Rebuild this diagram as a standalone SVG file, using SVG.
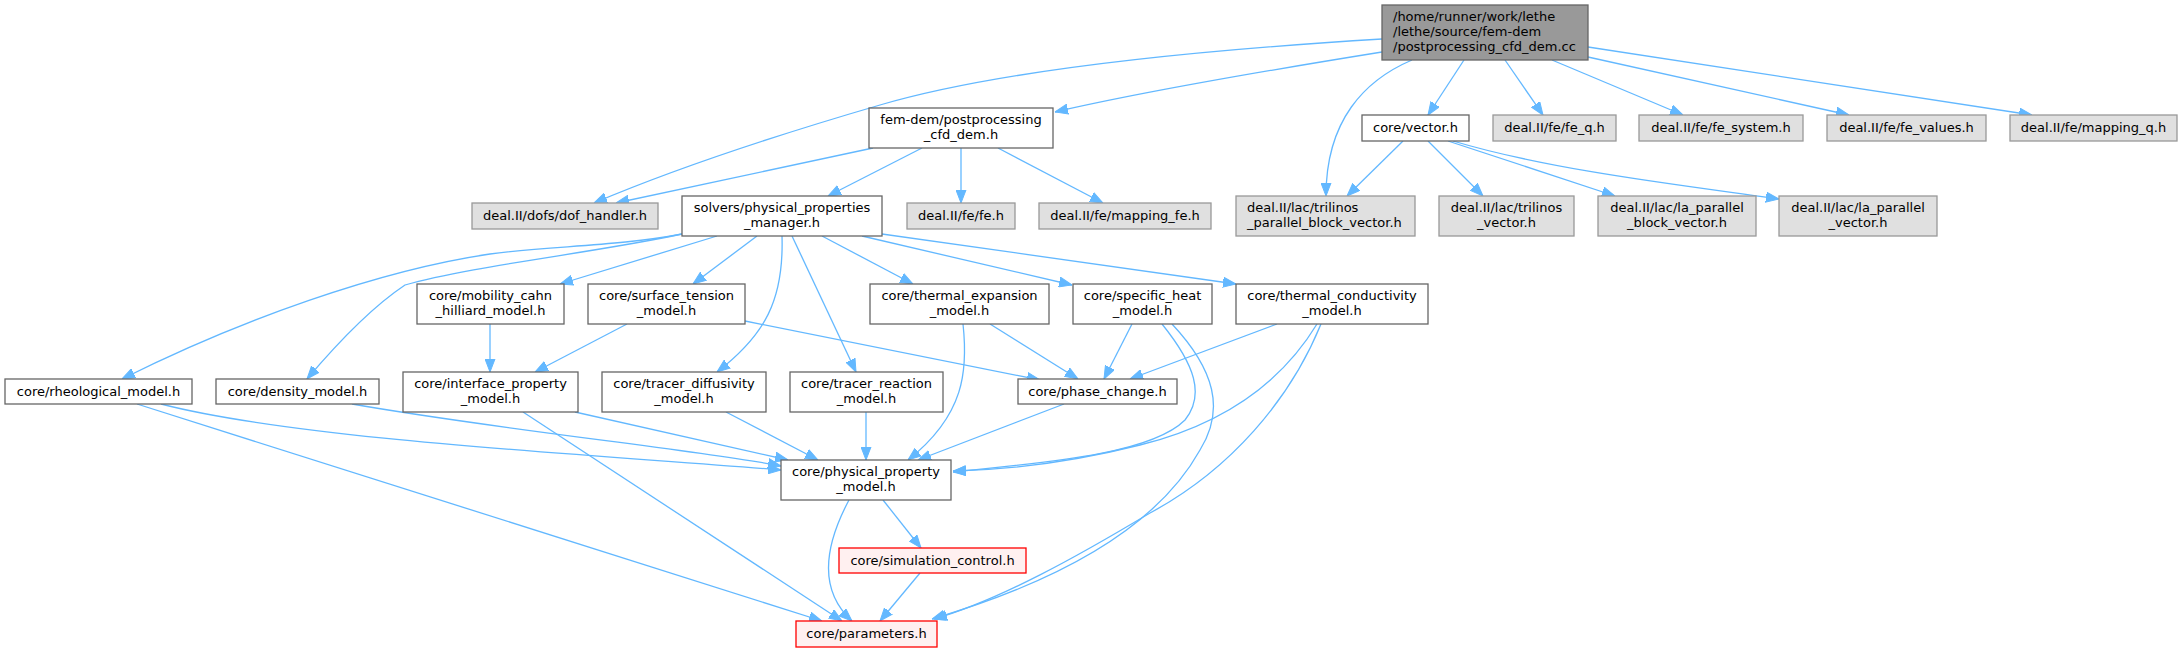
<svg xmlns="http://www.w3.org/2000/svg" width="2182" height="652" viewBox="0 0 2182 652">
<style>
text{font-family:"DejaVu Sans","Liberation Sans",sans-serif;font-size:13px;fill:#000;text-anchor:middle}
.w{fill:#fff;stroke:#666;stroke-width:1.3}
.g{fill:#e0e0e0;stroke:#999;stroke-width:1.3}
.m{fill:#999;stroke:#666;stroke-width:1.3}
.r{fill:#fff0f0;stroke:#f00;stroke-width:1.3}
.e path{fill:none;stroke:#63b8ff;stroke-width:1.3;marker-end:url(#a)}
</style>
<defs>
<marker id="a" viewBox="0 0 13 11" refX="13" refY="5.5" markerWidth="13" markerHeight="11" markerUnits="userSpaceOnUse" orient="auto">
<path d="M0,0.5 L13,5.5 L0,10.5 Z" fill="#63b8ff" stroke="#63b8ff" stroke-width="1"/>
</marker>
</defs>
<rect width="2182" height="652" fill="#fff"/>
<g class="e">
<path d="M1382,52 C1270,70 1150,90 1055,112"/>
<path d="M1382,39 C1200,50 1000,70 880,105 C760,140 660,175 594,203"/>
<path d="M1412,60 C1365,80 1326,120 1326,196"/>
<path d="M1464,60 L1428,115"/>
<path d="M1505,60 L1543,115"/>
<path d="M1552,60 L1683,115"/>
<path d="M1588,57 L1849,115"/>
<path d="M1588,47 L2032,115"/>
<path d="M873,148 L616,203"/>
<path d="M922,148 L828,196"/>
<path d="M961,148 L961,203"/>
<path d="M998,148 L1103,203"/>
<path d="M1403,141 L1347,196"/>
<path d="M1428,141 L1483,196"/>
<path d="M1448,141 L1615,196"/>
<path d="M1453,141 C1550,170 1680,185 1779,199"/>
<path d="M682,234 C620,246 550,246 490,254 C380,270 240,320 122,379"/>
<path d="M682,234 C600,252 470,266 405,285 C375,305 340,340 307,379"/>
<path d="M717,236 L560,284"/>
<path d="M757,236 L693,284"/>
<path d="M782,236 C784,300 765,335 717,372"/>
<path d="M792,236 L856,372"/>
<path d="M822,236 L913,284"/>
<path d="M862,236 L1072,285"/>
<path d="M882,234 L1236,284"/>
<path d="M490,324 L490,372"/>
<path d="M627,324 L535,372"/>
<path d="M745,321 L1040,380"/>
<path d="M963,324 C968,370 965,415 908,460"/>
<path d="M990,324 L1078,379"/>
<path d="M1132,324 L1104,379"/>
<path d="M1162,324 C1195,365 1205,395 1185,420 C1150,455 1040,463 953,472"/>
<path d="M1172,324 C1215,370 1225,410 1200,450 C1150,540 1030,590 932,619"/>
<path d="M1277,324 L1130,379"/>
<path d="M1317,324 C1280,385 1220,425 1140,445 C1060,465 1000,470 953,471"/>
<path d="M1321,324 C1290,400 1230,470 1150,513 C1080,555 1000,600 934,619"/>
<path d="M161,404 C300,440 600,455 781,470"/>
<path d="M137,404 L822,621"/>
<path d="M352,404 C500,430 700,450 781,466"/>
<path d="M575,412 L788,460"/>
<path d="M523,412 L842,621"/>
<path d="M726,412 L818,460"/>
<path d="M866,412 L866,460"/>
<path d="M1064,404 L918,460"/>
<path d="M883,500 L921,548"/>
<path d="M849,500 C825,545 818,590 852,621"/>
<path d="M920,573 L880,621"/>
</g>
<g id="main"><rect class="m" x="1382" y="5" width="206" height="55"/><text x="1393" y="21" style="text-anchor:start">/home/runner/work/lethe</text><text x="1393" y="36" style="text-anchor:start">/lethe/source/fem-dem</text><text x="1393" y="51" style="text-anchor:start">/postprocessing_cfd_dem.cc</text></g>
<g id="femdem"><rect class="w" x="869" y="108" width="184" height="40"/><text x="961" y="124">fem-dem/postprocessing</text><text x="961" y="139">_cfd_dem.h</text></g>
<g id="dof"><rect class="g" x="472" y="203" width="186" height="26"/><text x="565" y="220">deal.II/dofs/dof_handler.h</text></g>
<g id="solvers"><rect class="w" x="682" y="196" width="200" height="40"/><text x="782" y="212">solvers/physical_properties</text><text x="782" y="227">_manager.h</text></g>
<g id="feh"><rect class="g" x="907" y="203" width="108" height="26"/><text x="961" y="220">deal.II/fe/fe.h</text></g>
<g id="mappingfe"><rect class="g" x="1039" y="203" width="172" height="26"/><text x="1125" y="220">deal.II/fe/mapping_fe.h</text></g>
<g id="vector"><rect class="w" x="1362" y="115" width="107" height="26"/><text x="1415.5" y="132">core/vector.h</text></g>
<g id="feq"><rect class="g" x="1493" y="115" width="123" height="26"/><text x="1554.5" y="132">deal.II/fe/fe_q.h</text></g>
<g id="fesystem"><rect class="g" x="1639" y="115" width="164" height="26"/><text x="1721" y="132">deal.II/fe/fe_system.h</text></g>
<g id="fevalues"><rect class="g" x="1827" y="115" width="159" height="26"/><text x="1906.5" y="132">deal.II/fe/fe_values.h</text></g>
<g id="mappingq"><rect class="g" x="2010" y="115" width="167" height="26"/><text x="2093.5" y="132">deal.II/fe/mapping_q.h</text></g>
<g id="tpbv"><rect class="g" x="1236" y="196" width="179" height="40"/><text x="1247" y="212" style="text-anchor:start">deal.II/lac/trilinos</text><text x="1247" y="227" style="text-anchor:start">_parallel_block_vector.h</text></g>
<g id="tv"><rect class="g" x="1439" y="196" width="135" height="40"/><text x="1506.5" y="212">deal.II/lac/trilinos</text><text x="1506.5" y="227">_vector.h</text></g>
<g id="lapbv"><rect class="g" x="1598" y="196" width="158" height="40"/><text x="1677" y="212">deal.II/lac/la_parallel</text><text x="1677" y="227">_block_vector.h</text></g>
<g id="lapv"><rect class="g" x="1779" y="196" width="158" height="40"/><text x="1858" y="212">deal.II/lac/la_parallel</text><text x="1858" y="227">_vector.h</text></g>
<g id="rheo"><rect class="w" x="5" y="379" width="187" height="25"/><text x="98.5" y="396">core/rheological_model.h</text></g>
<g id="density"><rect class="w" x="216" y="379" width="163" height="25"/><text x="297.5" y="396">core/density_model.h</text></g>
<g id="mobility"><rect class="w" x="417" y="284" width="147" height="40"/><text x="490.5" y="300">core/mobility_cahn</text><text x="490.5" y="315">_hilliard_model.h</text></g>
<g id="surface"><rect class="w" x="588" y="284" width="157" height="40"/><text x="666.5" y="300">core/surface_tension</text><text x="666.5" y="315">_model.h</text></g>
<g id="interface"><rect class="w" x="403" y="372" width="175" height="40"/><text x="490.5" y="388">core/interface_property</text><text x="490.5" y="403">_model.h</text></g>
<g id="tdiff"><rect class="w" x="602" y="372" width="164" height="40"/><text x="684" y="388">core/tracer_diffusivity</text><text x="684" y="403">_model.h</text></g>
<g id="treact"><rect class="w" x="790" y="372" width="153" height="40"/><text x="866.5" y="388">core/tracer_reaction</text><text x="866.5" y="403">_model.h</text></g>
<g id="texp"><rect class="w" x="870" y="284" width="179" height="40"/><text x="959.5" y="300">core/thermal_expansion</text><text x="959.5" y="315">_model.h</text></g>
<g id="sheat"><rect class="w" x="1073" y="284" width="139" height="40"/><text x="1142.5" y="300">core/specific_heat</text><text x="1142.5" y="315">_model.h</text></g>
<g id="tcond"><rect class="w" x="1236" y="284" width="192" height="40"/><text x="1332" y="300">core/thermal_conductivity</text><text x="1332" y="315">_model.h</text></g>
<g id="phase"><rect class="w" x="1018" y="379" width="159" height="25"/><text x="1097.5" y="396">core/phase_change.h</text></g>
<g id="physprop"><rect class="w" x="781" y="460" width="170" height="40"/><text x="866" y="476">core/physical_property</text><text x="866" y="491">_model.h</text></g>
<g id="simctl"><rect class="r" x="839" y="548" width="187" height="25"/><text x="932.5" y="565">core/simulation_control.h</text></g>
<g id="params"><rect class="r" x="796" y="621" width="141" height="26"/><text x="866.5" y="638">core/parameters.h</text></g>
</svg>
